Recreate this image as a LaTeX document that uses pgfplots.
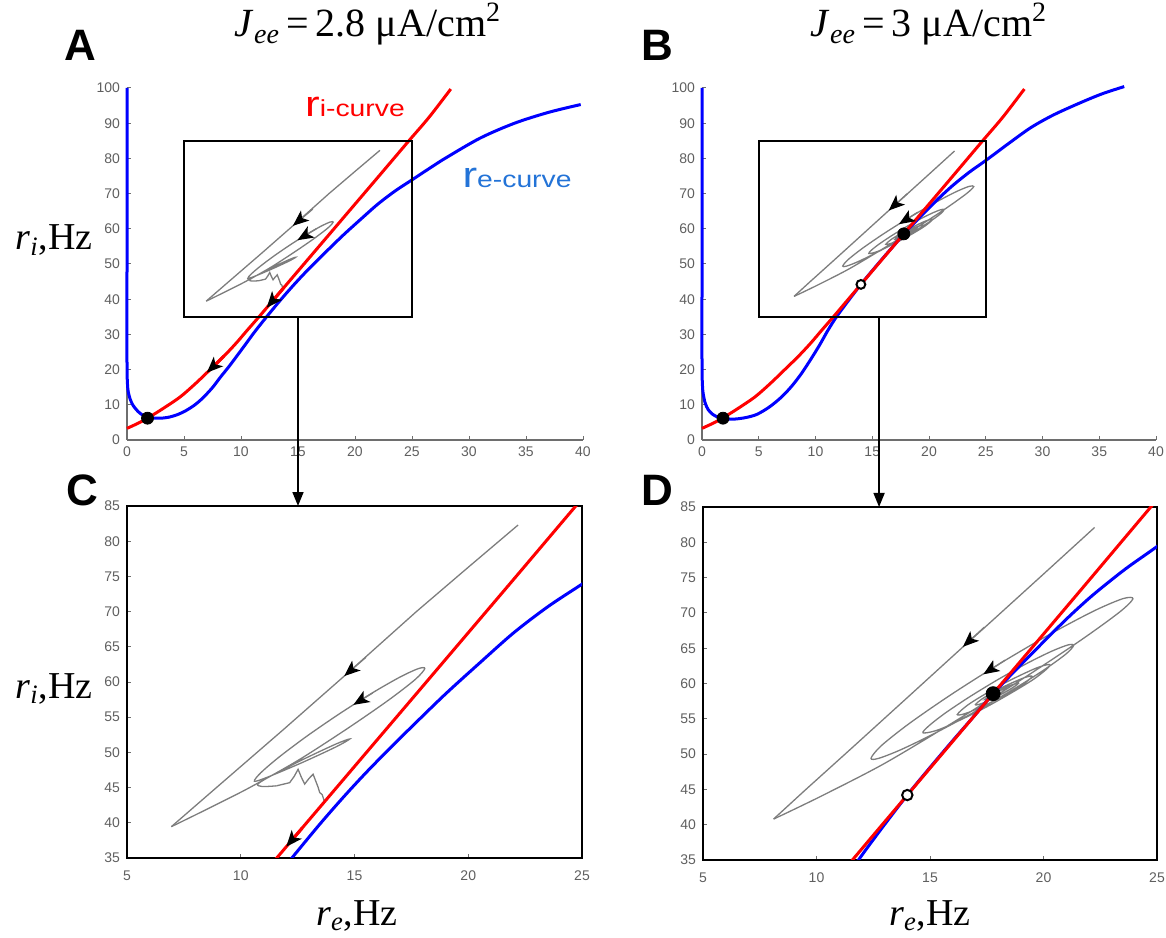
\documentclass[border=0pt]{standalone}
\usepackage{fontspec}
\setmainfont{Liberation Serif}
\newfontfamily\arialf{Liberation Sans}
\usepackage{graphicx}
\usepackage{pgfplots}
\pgfplotsset{compat=1.18}
\usepackage{pgfplotstable}
\usetikzlibrary{arrows.meta}

\definecolor{rc}{RGB}{255,0,0}
\definecolor{bc}{RGB}{0,0,255}
\definecolor{tr}{RGB}{125,125,125}
\definecolor{lb}{RGB}{35,115,215}
\definecolor{tl}{RGB}{95,95,95}
\definecolor{axg}{RGB}{110,110,110}

\pgfplotsset{
  base/.style={scale only axis, anchor=south west,
    /pgf/number format/assume math mode=true,
    tick label style={font=\arialf\fontsize{7}{8}\selectfont, text=tl},
    tick style={axg, line width=0.5pt}, major tick length=2pt, tick align=inside, tick pos=left},
  topax/.style={base, width=228pt, height=176pt, xmin=0, xmax=40, ymin=0, ymax=100,
    xtick={0,5,...,40}, ytick={0,10,...,100},
    axis lines*=left, axis line style={axg, line width=0.7pt, -}, clip=false},
  botax/.style={base, width=227.5pt, height=176pt, xmin=5, xmax=25, ymin=35, ymax=85,
    xtick={5,10,...,25}, ytick={35,40,...,85},
    axis line style={black, line width=1pt},
    xticklabel style={yshift=-3pt}},
  trj/.style={tr, line width=0.65pt},
  rcv/.style={rc, line width=1.5pt, smooth},
  bcv/.style={bc, line width=1.5pt, smooth},
  arr/.style={tr, line width=0.65pt, -{Stealth[length=8pt, width=6.5pt, inset=2pt, color=black]}},
  arrR/.style={rc, line width=1.5pt, -{Stealth[length=8pt, width=6.5pt, inset=2pt, color=black]}},
}

\pgfplotstableread{
x y
0 3.3
1 4.8
1.8 6.2
3 8.6
4.65 12.2
6 16.0
7.1 19.4
8.5 23.8
9.6 27.6
10.5 31.0
11.58 35.0
12.5 38.5
14 44.2
16 51.8
17.78 58.56
20 67.0
22 74.6
24.7 84.9
26.5 91.7
28.4 99.7
}\redtab

\pgfplotstableread{
x y
0 100
0 50
0 22
0.04 16
0.12 13.5
0.28 11.6
0.5 10.0
0.8 8.7
1.14 7.6
1.7 6.5
2.3 6.25
3 6.2
3.77 6.55
4.5 7.3
5.2 8.4
6 10.1
6.7 12.1
7.5 14.9
8.16 17.7
9 21.1
9.6 23.7
10.4 27.2
11.1 30.3
11.8 33.2
12.5 36.0
13.5 39.9
14.5 43.6
15.5 47.1
16.5 50.4
17.5 53.6
19 58.3
20.5 62.7
22 67.0
23.5 70.7
25 73.9
26.5 77.1
28 80.2
31 85.8
34 90.0
37 93.1
39.8 95.3
}\blueA

\pgfplotstableread{
x y
0 100
0 50
0 22
0.04 15.5
0.12 12.8
0.29 10.4
0.55 8.6
0.9 7.4
1.32 6.6
2 6.05
2.9 5.95
3.9 6.4
4.85 7.3
5.9 9.3
6.9 11.9
7.8 14.9
8.7 18.6
9.6 23.0
10.4 27.2
11.1 31.2
11.85 35.0
12.9 39.6
14.0 44.2
15 48.1
16 51.9
17 55.6
17.78 58.56
18.68 61.6
20 65.9
21.1 69.4
22.2 72.6
23.6 76.2
25 79.4
27 84.2
29 88.8
31 92.4
33.4 95.9
35.3 98.4
37.2 100.4
}\blueB

\pgfplotstableread{
x y
22.19 82.3
20.0 76.3
17.72 70.0
14.64 61.1
11.86 53.2
8.93 45.0
6.95 39.45
}\trajCu

\pgfplotstableread{
x y
6.95 39.45
7.9 40.95
8.93 42.6
10.389 45.0
12.52 48.87
14.651 53.31
16.459 57.34
17.666 60.35
18.09 61.9
17.805 61.90
16.993 60.69
15.778 58.44
14.345 55.5
12.912 52.32
11.697 49.37
10.885 47.12
10.6 45.9
11.213 46.53
12.695 48.55
14.177 50.77
14.79 51.9
14.199 51.21
12.77 49.05
11.341 46.68
10.75 45.5
10.95 45.15
11.57 45.25
}\trajCl

\pgfplotstableread{
x y
11.57 45.25
12.15 45.7
12.35 46.6
12.52 47.6
12.66 46.5
12.81 45.5
13.0 46.3
13.18 46.9
13.3 45.9
13.4 45.05
13.47 44.3
13.58 44.0
13.68 43.0
12.5 38.5
11.58 35.0
10.5 31.0
9.6 27.6
8.5 23.8
7.1 19.4
6 16.0
4.65 12.2
3 8.6
1.8 6.2
}\trajCw

\pgfplotstableread{
x y
22.25 82.1
20.0 75.5
17.5 68.2
16.56 65.5
14.0 58.0
11.5 50.7
9.5 44.9
8.11 40.8
}\trajDu

\pgfplotstableread{
x y
8.11 40.8
8.9 42.0
10.428 44.4
12.997 48.68
16.025 54.50
19.053 60.61
21.623 66.09
23.337 70.08
23.94 72.0
23.50 72.02
22.25 70.32
20.378 67.15
18.17 63.0
15.962 58.50
14.089 54.34
12.84 51.15
12.4 49.4
12.74 49.40
13.707 50.61
15.157 52.86
16.865 55.8
18.573 58.98
20.023 61.93
20.99 64.18
21.33 65.4
21.077 65.46
20.359 64.57
19.283 62.87
18.015 60.6
16.747 58.12
15.671 55.81
14.953 54.01
14.7 53.0
15.52 53.63
17.5 56.7
19.48 60.42
20.3 62.6
19.70 62.21
18.25 60.0
16.80 57.26
16.2 55.6
16.683 55.89
17.85 57.6
19.017 59.71
19.5 61.0
19.134 60.80
18.25 59.55
17.366 57.97
17.0 57.0
17.278 57.17
17.95 58.15
18.622 59.37
18.9 60.1
18.15 59.2
17.4 57.7
17.9 58.3
18.4 59.3
18.02 58.9
17.65 58.1
17.95 58.55
17.78 58.56
}\trajDs

\newcommand{\ricurve}{{\arialf\scalebox{1.22}[1]{{\fontsize{18}{18}\selectfont r}{\fontsize{11.6}{12}\selectfont i-curve}}}}
\newcommand{\recurve}{{\arialf\scalebox{1.22}[1]{{\fontsize{18}{18}\selectfont r}{\fontsize{11.6}{12}\selectfont e-curve}}}}

\begin{document}
\begin{tikzpicture}
\path[use as bounding box] (0,0) rectangle (583pt,468.5pt);

% ---------------- Panel A
\begin{axis}[topax, name=axA, at={(63.5pt,248.5pt)}]
\addplot[trj] table {\trajCu};
\addplot[trj, smooth] table {\trajCl};
\addplot[trj] table {\trajCw};
\addplot[bcv] table {\blueA};
\addplot[rcv] table {\redtab};
\addplot[arr] coordinates {(16.3,65.6) (14.55,60.85)};
\addplot[arr] coordinates {(16.6,60.0) (14.95,56.75)};
\addplot[arrR] coordinates {(13.7,43.05) (12.25,37.55)};
\addplot[arrR] coordinates {(8.5,23.8) (7.0,19.1)};
\addplot[only marks, mark=*, mark size=3pt, black] coordinates {(1.8,6.2)};
\draw[black, line width=0.9pt] (axis cs:5,35) rectangle (axis cs:25,85);
\coordinate (Abot) at (axis cs:15,35);
\node[anchor=base west, text=rc, inner sep=0] at (axis cs:15.6,91.8) {\ricurve};
\node[anchor=base west, text=lb, inner sep=0] at (axis cs:29.4,71.6) {\recurve};
\end{axis}

% ---------------- Panel B
\begin{axis}[topax, name=axB, at={(351pt,248.5pt)}, width=227pt]
\addplot[trj] table {\trajDu};
\addplot[trj, smooth] table {\trajDs};
\addplot[bcv] table {\blueB};
\addplot[rcv] table {\redtab};
\addplot[arr] coordinates {(18.1,70.0) (16.45,65.2)};
\addplot[arr] coordinates {(19.0,64.7) (17.35,61.3)};
\addplot[only marks, mark=*, mark size=3pt, black] coordinates {(1.85,6.2) (17.78,58.56)};
\addplot[only marks, mark=*, mark size=2.2pt, mark options={fill=white, draw=black, line width=1pt}] coordinates {(14.0,44.2)};
\draw[black, line width=0.9pt] (axis cs:5,35) rectangle (axis cs:25,85);
\coordinate (Bbot) at (axis cs:15.6,35);
\end{axis}

% ---------------- Panel C
\begin{axis}[botax, name=axC, at={(63.5pt,39.5pt)}]
\addplot[trj] table {\trajCu};
\addplot[trj, smooth] table {\trajCl};
\addplot[trj] table {\trajCw};
\addplot[bcv] table {\blueA};
\addplot[rcv] table {\redtab};
\addplot[arr] coordinates {(15.5,63.5) (14.55,60.85)};
\addplot[arr] coordinates {(15.8,58.45) (14.95,56.75)};
\addplot[arrR] coordinates {(12.7,39.25) (12.0,36.6)};
\end{axis}

% ---------------- Panel D
\begin{axis}[botax, name=axD, at={(351.5pt,38.5pt)}, width=227pt, height=176.5pt]
\addplot[trj] table {\trajDu};
\addplot[trj, smooth] table {\trajDs};
\addplot[bcv] table {\blueB};
\addplot[rcv] table {\redtab};
\addplot[arr] coordinates {(17.4,68.0) (16.45,65.2)};
\addplot[arr] coordinates {(18.3,63.3) (17.35,61.3)};
\addplot[only marks, mark=*, mark size=3.5pt, black] coordinates {(17.78,58.56)};
\addplot[only marks, mark=*, mark size=2.6pt, mark options={fill=white, draw=black, line width=1pt}] coordinates {(14.0,44.2)};
\end{axis}

% connectors
\draw[black, line width=0.8pt, -{Triangle[length=7pt, width=5.5pt]}] (Abot) -- (Abot |- axC.north);
\draw[black, line width=0.8pt, -{Triangle[length=7pt, width=5.5pt]}] (Bbot) -- (Bbot |- axD.north);

% panel letters
\node[font=\arialf\bfseries\fontsize{22}{22}\selectfont] at (40pt,446pt) {A};
\node[font=\arialf\bfseries\fontsize{22}{22}\selectfont] at (328.5pt,446pt) {B};
\node[font=\arialf\bfseries\fontsize{22}{22}\selectfont] at (41pt,223.5pt) {C};
\node[font=\arialf\bfseries\fontsize{22}{22}\selectfont] at (328.5pt,223.5pt) {D};

% titles
\node[anchor=base, font=\fontsize{20}{22}\selectfont, inner sep=0] at (184pt,450pt) {\textit{J}\textsubscript{\textit{ee}}\,=\,2.8 μA/cm\textsuperscript{2}};
\node[anchor=base, font=\fontsize{20}{22}\selectfont, inner sep=0] at (464.5pt,450pt) {\textit{J}\textsubscript{\textit{ee}}\,=\,3 μA/cm\textsuperscript{2}};

% axis labels
\node[anchor=base east, font=\fontsize{19}{20}\selectfont, inner sep=0] at (46.5pt,343.5pt) {\textit{r}\textsubscript{\textit{i}},Hz};
\node[anchor=base east, font=\fontsize{19}{20}\selectfont, inner sep=0] at (46.5pt,119.5pt) {\textit{r}\textsubscript{\textit{i}},Hz};
\node[anchor=base, font=\fontsize{19}{20}\selectfont, inner sep=0] at (178.5pt,6pt) {\textit{r}\textsubscript{\textit{e}},Hz};
\node[anchor=base, font=\fontsize{19}{20}\selectfont, inner sep=0] at (465pt,6pt) {\textit{r}\textsubscript{\textit{e}},Hz};
\end{tikzpicture}
\end{document}
